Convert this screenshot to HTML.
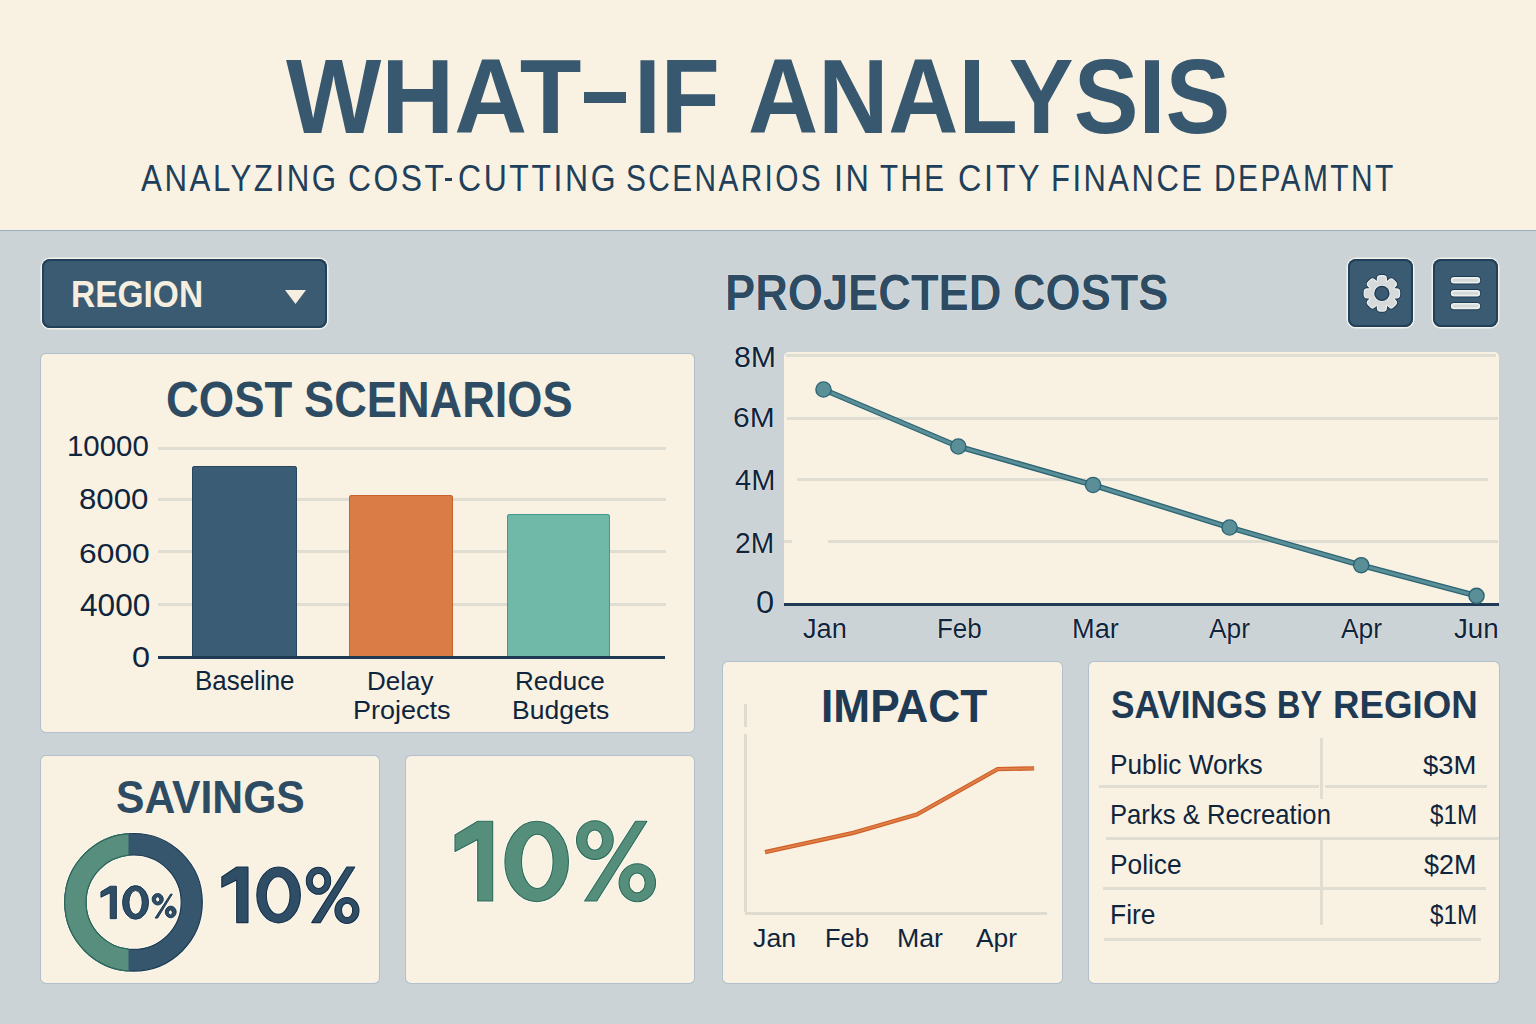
<!DOCTYPE html>
<html><head><meta charset="utf-8">
<style>
html,body{margin:0;padding:0;}
body{width:1536px;height:1024px;position:relative;overflow:hidden;background:#ccd3d6;font-family:"Liberation Sans",sans-serif;}
.a{position:absolute;white-space:nowrap;line-height:1;transform-origin:0 0;}
.b{font-weight:bold;}
.h{text-shadow:0 0 1px #f6f5ee,0 0 1px #f6f5ee;}
.s{position:absolute;}
#hdr{position:absolute;left:0;top:0;width:1536px;height:230px;background:#f9f2e2;border-bottom:1px solid #9aaec4;}
.card{position:absolute;background:#f9f2e2;border-radius:5px;box-shadow:0 0 0 1px rgba(130,155,185,0.35);}
.btn{position:absolute;background:#3a5b72;border-radius:8px;box-shadow:inset 0 0 0 2px #21405a, 0 0 0 1.5px #f3f1ea;}
.grid{position:absolute;height:3px;background:#e0ddd3;}
</style></head>
<body>
<div id="hdr"></div>
<div class="s" style="left:445px;top:177.5px;width:7px;height:3px;background:#1f3f5a;"></div>
<div class="s" style="left:584px;top:91.6px;width:41.7px;height:11.6px;background:#37586f;"></div>

<!-- region dropdown -->
<div class="btn" style="left:42px;top:259px;width:285px;height:69px;"></div>
<svg class="s" style="left:285px;top:290px" width="21" height="14"><path d="M0 0H21L10.5 14Z" fill="#f6efe0"/></svg>

<!-- gear btn -->
<div class="btn" style="left:1348px;top:259px;width:65px;height:68px;"></div>
<svg class="s" style="left:1348px;top:259px" width="65" height="68" viewBox="0 0 65 68">
  <defs><g id="gshape"><circle r="12.6"/><rect x="-4" y="-17.2" width="8" height="8.6" rx="2.6" transform="rotate(0)"/><rect x="-4" y="-17.2" width="8" height="8.6" rx="2.6" transform="rotate(45)"/><rect x="-4" y="-17.2" width="8" height="8.6" rx="2.6" transform="rotate(90)"/><rect x="-4" y="-17.2" width="8" height="8.6" rx="2.6" transform="rotate(135)"/><rect x="-4" y="-17.2" width="8" height="8.6" rx="2.6" transform="rotate(180)"/><rect x="-4" y="-17.2" width="8" height="8.6" rx="2.6" transform="rotate(225)"/><rect x="-4" y="-17.2" width="8" height="8.6" rx="2.6" transform="rotate(270)"/><rect x="-4" y="-17.2" width="8" height="8.6" rx="2.6" transform="rotate(315)"/></g></defs>
  <g transform="translate(33.9,34.4)">
    <use href="#gshape" fill="#1d3a55" stroke="#1d3a55" stroke-width="4.2" stroke-linejoin="round"/>
    <use href="#gshape" fill="#eef0ec" stroke="#eef0ec" stroke-width="2.2" stroke-linejoin="round"/>
    <use href="#gshape" fill="#d6dadb"/>
    <circle r="8.4" fill="#eef0ec"/>
    <circle r="7" fill="#3a5b72" stroke="#1d3a55" stroke-width="1.4"/>
  </g>
</svg>
<!-- menu btn -->
<div class="btn" style="left:1433px;top:259px;width:65px;height:68px;"></div>
<svg class="s" style="left:1433px;top:259px" width="65" height="68" viewBox="0 0 65 68">
  <g stroke-linecap="round">
    <g stroke="#1d3a55" stroke-width="8.4">
      <line x1="21" y1="21.2" x2="44" y2="21.2"/><line x1="21" y1="34.2" x2="44" y2="34.2"/><line x1="21" y1="47.1" x2="44" y2="47.1"/>
    </g>
    <g stroke="#eef0ec" stroke-width="6.4">
      <line x1="21" y1="21.2" x2="44" y2="21.2"/><line x1="21" y1="34.2" x2="44" y2="34.2"/><line x1="21" y1="47.1" x2="44" y2="47.1"/>
    </g>
    <g stroke="#d3d8d9" stroke-width="3">
      <line x1="21" y1="21.2" x2="44" y2="21.2"/><line x1="21" y1="34.2" x2="44" y2="34.2"/><line x1="21" y1="47.1" x2="44" y2="47.1"/>
    </g>
  </g>
</svg>

<!-- cost scenarios card -->
<div class="card" style="left:41px;top:354px;width:653px;height:378px;"></div>
<div class="grid" style="left:158px;top:447px;width:508px;"></div>
<div class="grid" style="left:158px;top:498px;width:508px;"></div>
<div class="grid" style="left:158px;top:550px;width:508px;"></div>
<div class="grid" style="left:158px;top:603px;width:508px;"></div>
<div class="s" style="left:192px;top:466px;width:105px;height:191px;background:#3a5c75;border-radius:3px 3px 0 0;box-shadow:inset 0 0 0 1px #274660;"></div>
<div class="s" style="left:349px;top:495px;width:104px;height:162px;background:#d97c46;border-radius:3px 3px 0 0;box-shadow:inset 0 0 0 1px #c8622c;"></div>
<div class="s" style="left:507px;top:514px;width:103px;height:143px;background:#70b9a8;border-radius:3px 3px 0 0;box-shadow:inset 0 0 0 1px #3f9c8a;"></div>
<div class="s" style="left:158px;top:656px;width:507px;height:3px;background:#1e3a55;"></div>

<!-- projected chart -->
<div class="s" style="left:784px;top:352px;width:715px;height:252px;background:#f9f2e2;border-radius:5px 5px 0 0;"></div>
<div class="grid" style="left:786px;top:354px;width:710px;"></div>
<div class="grid" style="left:787px;top:417px;width:711px;"></div>
<div class="grid" style="left:797px;top:478px;width:691px;"></div>
<div class="grid" style="left:784px;top:540px;width:8px;"></div>
<div class="grid" style="left:828px;top:540px;width:670px;"></div>
<div class="s" style="left:784px;top:603px;width:715px;height:3px;background:#1e3a55;"></div>
<svg class="s" style="left:0;top:0" width="1536" height="1024">
  <polyline points="823.5,389.5 958.3,446.5 1093.1,485 1229.6,527.5 1361.2,565.2 1476.5,595.8" fill="none" stroke="#2b6474" stroke-width="5.6" stroke-linejoin="round"/>
  <polyline points="823.5,389.5 958.3,446.5 1093.1,485 1229.6,527.5 1361.2,565.2 1476.5,595.8" fill="none" stroke="#5b8f98" stroke-width="3" stroke-linejoin="round"/>
  <g fill="#5b8f98" stroke="#2b6474" stroke-width="1.4">
    <circle cx="823.5" cy="389.5" r="7.6"/>
    <circle cx="958.3" cy="446.5" r="7.6"/>
    <circle cx="1093.1" cy="485" r="7.6"/>
    <circle cx="1229.6" cy="527.5" r="7.6"/>
    <circle cx="1361.2" cy="565.2" r="7.6"/>
    <circle cx="1476.5" cy="595.8" r="7.6"/>
  </g>
</svg>

<!-- savings card -->
<div class="card" style="left:41px;top:756px;width:338px;height:227px;"></div>
<svg class="s" style="left:0;top:0" width="400" height="1024">
  <defs><clipPath id="gclip"><rect x="0" y="800" width="128.5" height="200"/></clipPath></defs>
  <path d="M64.70 902.30A68.80 68.80 0 1 0 202.30 902.30A68.80 68.80 0 1 0 64.70 902.30ZM86.00 902.20A47.60 47.20 0 1 0 181.20 902.20A47.60 47.20 0 1 0 86.00 902.20Z" fill="none" stroke="#fffdf5" stroke-width="2.6"/>
  <path d="M64.70 902.30A68.80 68.80 0 1 0 202.30 902.30A68.80 68.80 0 1 0 64.70 902.30ZM86.00 902.20A47.60 47.20 0 1 0 181.20 902.20A47.60 47.20 0 1 0 86.00 902.20Z" fill="#36566d" fill-rule="evenodd" stroke="#1c3a52" stroke-width="1.2"/>
  <path d="M64.70 902.30A68.80 68.80 0 1 0 202.30 902.30A68.80 68.80 0 1 0 64.70 902.30ZM86.00 902.20A47.60 47.20 0 1 0 181.20 902.20A47.60 47.20 0 1 0 86.00 902.20Z" fill="#578e7d" fill-rule="evenodd" stroke="#2b6a5a" stroke-width="1.2" clip-path="url(#gclip)"/>
</svg>

<!-- big 10% card -->
<div class="card" style="left:406px;top:756px;width:288px;height:227px;"></div>

<!-- impact card -->
<div class="card" style="left:723px;top:662px;width:339px;height:321px;"></div>
<div class="s" style="left:744px;top:704px;width:3px;height:23px;background:#dedbd1;"></div>
<div class="s" style="left:744px;top:734px;width:3px;height:178px;background:#dedbd1;"></div>
<div class="s" style="left:745px;top:912px;width:302px;height:3px;background:#dedbd1;"></div>
<svg class="s" style="left:0;top:0" width="1536" height="1024">
  <polyline points="765,852.2 853.4,832.8 916.7,814.6 997.6,769.1 1034.1,768.4" fill="none" stroke="#cf5f27" stroke-width="4.3"/>
  <polyline points="765,852.2 853.4,832.8 916.7,814.6 997.6,769.1 1034.1,768.4" fill="none" stroke="#df7e46" stroke-width="2.1"/>
</svg>

<!-- savings by region -->
<div class="card" style="left:1089px;top:662px;width:410px;height:321px;"></div>
<div class="grid" style="left:1099px;top:785px;width:220px;"></div>
<div class="grid" style="left:1325px;top:785px;width:162px;"></div>
<div class="grid" style="left:1106px;top:837px;width:393px;"></div>
<div class="grid" style="left:1103px;top:887px;width:383px;"></div>
<div class="grid" style="left:1104px;top:938px;width:377px;"></div>
<div class="s" style="left:1320px;top:738px;width:2.5px;height:61px;background:#e0ddd3;"></div>
<div class="s" style="left:1320px;top:837px;width:2.5px;height:88px;background:#e0ddd3;"></div>

<svg class="s" style="left:0;top:0" width="700" height="1024"><path d="M100.90 891.80 L110.20 886.20 L116.40 886.20 L116.40 918.70 L110.20 918.70 L110.20 892.90 L100.90 897.30ZM122.50 902.45A13.05 16.85 0 1 0 148.60 902.45A13.05 16.85 0 1 0 122.50 902.45ZM129.00 902.45A6.60 11.85 0 1 0 142.20 902.45A6.60 11.85 0 1 0 129.00 902.45ZM152.10 899.25A5.60 5.75 0 1 0 163.30 899.25A5.60 5.75 0 1 0 152.10 899.25ZM155.60 899.40A2.05 2.60 0 1 0 159.70 899.40A2.05 2.60 0 1 0 155.60 899.40ZM165.30 911.95A5.45 5.85 0 1 0 176.20 911.95A5.45 5.85 0 1 0 165.30 911.95ZM168.50 912.40A1.90 2.50 0 1 0 172.30 912.40A1.90 2.50 0 1 0 168.50 912.40ZM170.60 894.10 L172.30 894.10 L157.70 918.10 L155.05 918.10Z" fill="none" stroke="#fffdf5" stroke-width="2.0" stroke-linejoin="round"/><path d="M100.90 891.80 L110.20 886.20 L116.40 886.20 L116.40 918.70 L110.20 918.70 L110.20 892.90 L100.90 897.30ZM122.50 902.45A13.05 16.85 0 1 0 148.60 902.45A13.05 16.85 0 1 0 122.50 902.45ZM129.00 902.45A6.60 11.85 0 1 0 142.20 902.45A6.60 11.85 0 1 0 129.00 902.45ZM152.10 899.25A5.60 5.75 0 1 0 163.30 899.25A5.60 5.75 0 1 0 152.10 899.25ZM155.60 899.40A2.05 2.60 0 1 0 159.70 899.40A2.05 2.60 0 1 0 155.60 899.40ZM165.30 911.95A5.45 5.85 0 1 0 176.20 911.95A5.45 5.85 0 1 0 165.30 911.95ZM168.50 912.40A1.90 2.50 0 1 0 172.30 912.40A1.90 2.50 0 1 0 168.50 912.40ZM170.60 894.10 L172.30 894.10 L157.70 918.10 L155.05 918.10Z" fill="#2f4e66" fill-rule="evenodd" stroke="#142f48" stroke-width="0.9" stroke-linejoin="round"/><path d="M221.80 877.00 L236.70 867.00 L248.00 867.00 L248.00 922.60 L236.70 922.60 L236.70 880.00 L221.80 887.30ZM256.80 894.95A21.80 27.95 0 1 0 300.40 894.95A21.80 27.95 0 1 0 256.80 894.95ZM266.35 895.50A11.85 18.70 0 1 0 290.05 895.50A11.85 18.70 0 1 0 266.35 895.50ZM306.30 880.80A12.20 13.50 0 1 0 330.70 880.80A12.20 13.50 0 1 0 306.30 880.80ZM312.20 881.00A6.35 7.45 0 1 0 324.90 881.00A6.35 7.45 0 1 0 312.20 881.00ZM334.90 910.50A12.05 13.05 0 1 0 359.00 910.50A12.05 13.05 0 1 0 334.90 910.50ZM341.50 910.35A5.60 7.25 0 1 0 352.70 910.35A5.60 7.25 0 1 0 341.50 910.35ZM346.80 867.00 L354.80 867.00 L320.30 922.60 L311.70 922.60Z" fill="none" stroke="#fffdf5" stroke-width="2.4" stroke-linejoin="round"/><path d="M221.80 877.00 L236.70 867.00 L248.00 867.00 L248.00 922.60 L236.70 922.60 L236.70 880.00 L221.80 887.30ZM256.80 894.95A21.80 27.95 0 1 0 300.40 894.95A21.80 27.95 0 1 0 256.80 894.95ZM266.35 895.50A11.85 18.70 0 1 0 290.05 895.50A11.85 18.70 0 1 0 266.35 895.50ZM306.30 880.80A12.20 13.50 0 1 0 330.70 880.80A12.20 13.50 0 1 0 306.30 880.80ZM312.20 881.00A6.35 7.45 0 1 0 324.90 881.00A6.35 7.45 0 1 0 312.20 881.00ZM334.90 910.50A12.05 13.05 0 1 0 359.00 910.50A12.05 13.05 0 1 0 334.90 910.50ZM341.50 910.35A5.60 7.25 0 1 0 352.70 910.35A5.60 7.25 0 1 0 341.50 910.35ZM346.80 867.00 L354.80 867.00 L320.30 922.60 L311.70 922.60Z" fill="#2f4e66" fill-rule="evenodd" stroke="#142f48" stroke-width="1.1" stroke-linejoin="round"/><path d="M455.00 835.00 L477.70 821.20 L492.70 821.20 L492.70 901.00 L477.70 901.00 L477.70 839.40 L455.00 851.50ZM504.90 861.50A31.80 40.20 0 1 0 568.50 861.50A31.80 40.20 0 1 0 504.90 861.50ZM521.50 861.40A15.80 27.10 0 1 0 553.10 861.40A15.80 27.10 0 1 0 521.50 861.40ZM576.50 840.10A18.40 19.30 0 1 0 613.30 840.10A18.40 19.30 0 1 0 576.50 840.10ZM586.85 840.20A7.85 10.20 0 1 0 602.55 840.20A7.85 10.20 0 1 0 586.85 840.20ZM619.05 882.70A18.25 19.00 0 1 0 655.55 882.70A18.25 19.00 0 1 0 619.05 882.70ZM629.00 882.90A8.10 9.90 0 1 0 645.20 882.90A8.10 9.90 0 1 0 629.00 882.90ZM635.50 821.20 L647.00 821.20 L596.80 901.00 L584.60 901.00Z" fill="none" stroke="#fffdf5" stroke-width="2.6" stroke-linejoin="round"/><path d="M455.00 835.00 L477.70 821.20 L492.70 821.20 L492.70 901.00 L477.70 901.00 L477.70 839.40 L455.00 851.50ZM504.90 861.50A31.80 40.20 0 1 0 568.50 861.50A31.80 40.20 0 1 0 504.90 861.50ZM521.50 861.40A15.80 27.10 0 1 0 553.10 861.40A15.80 27.10 0 1 0 521.50 861.40ZM576.50 840.10A18.40 19.30 0 1 0 613.30 840.10A18.40 19.30 0 1 0 576.50 840.10ZM586.85 840.20A7.85 10.20 0 1 0 602.55 840.20A7.85 10.20 0 1 0 586.85 840.20ZM619.05 882.70A18.25 19.00 0 1 0 655.55 882.70A18.25 19.00 0 1 0 619.05 882.70ZM629.00 882.90A8.10 9.90 0 1 0 645.20 882.90A8.10 9.90 0 1 0 629.00 882.90ZM635.50 821.20 L647.00 821.20 L596.80 901.00 L584.60 901.00Z" fill="#568e7c" fill-rule="evenodd" stroke="#2d6a58" stroke-width="1.1" stroke-linejoin="round"/></svg>
<div class="a b" id="title_w" style="left:285.52px;top:44.47px;font-size:105.52px;color:#37586f;transform:scaleX(0.9573);">WHAT</div>
<div class="a b" id="title_if" style="left:633.57px;top:44.47px;font-size:105.52px;color:#37586f;transform:scaleX(0.9153);">IF</div>
<div class="a b" id="title_an" style="left:748.45px;top:44.47px;font-size:105.52px;color:#37586f;transform:scaleX(0.9206);">ANALYSIS</div>
<div class="a" id="sub0" style="left:140.62px;top:160.38px;font-size:37.35px;color:#1f3f5a;letter-spacing:3px;transform:scaleX(0.8382);">ANALYZING</div>
<div class="a" id="sub1" style="left:347.95px;top:160.38px;font-size:37.35px;color:#1f3f5a;letter-spacing:3px;transform:scaleX(0.8518);">COST</div>
<div class="a" id="sub2" style="left:457.96px;top:160.38px;font-size:37.35px;color:#1f3f5a;letter-spacing:3px;transform:scaleX(0.8569);">CUTTING</div>
<div class="a" id="sub3" style="left:626.04px;top:160.38px;font-size:37.35px;color:#1f3f5a;letter-spacing:3px;transform:scaleX(0.7985);">SCENARIOS</div>
<div class="a" id="sub4" style="left:834.20px;top:160.38px;font-size:37.35px;color:#1f3f5a;letter-spacing:3px;transform:scaleX(0.8686);">IN</div>
<div class="a" id="sub5" style="left:880.35px;top:160.38px;font-size:37.35px;color:#1f3f5a;letter-spacing:3px;transform:scaleX(0.7933);">THE</div>
<div class="a" id="sub6" style="left:957.70px;top:160.38px;font-size:37.35px;color:#1f3f5a;letter-spacing:3px;transform:scaleX(0.8688);">CITY</div>
<div class="a" id="sub7" style="left:1050.72px;top:160.38px;font-size:37.35px;color:#1f3f5a;letter-spacing:3px;transform:scaleX(0.8299);">FINANCE</div>
<div class="a" id="sub8" style="left:1214.26px;top:160.38px;font-size:37.35px;color:#1f3f5a;letter-spacing:3px;transform:scaleX(0.8023);">DEPAMTNT</div>
<div class="a b" id="region" style="left:71.48px;top:276.36px;font-size:37.50px;color:#f6efe0;transform:scaleX(0.8930);">REGION</div>
<div class="a b h" id="ptitle0" style="left:724.59px;top:267.68px;font-size:50.00px;color:#2d4c64;transform:scaleX(0.9041);">PROJECTED</div>
<div class="a b h" id="ptitle1" style="left:1013.08px;top:267.68px;font-size:50.00px;color:#2d4c64;transform:scaleX(0.9017);">COSTS</div>
<div class="a b" id="ctitle0" style="left:166.43px;top:375.19px;font-size:49.27px;color:#2d4c64;transform:scaleX(0.9224);">COST</div>
<div class="a b" id="ctitle1" style="left:304.39px;top:375.19px;font-size:49.27px;color:#2d4c64;transform:scaleX(0.9170);">SCENARIOS</div>
<div class="a" id="y10000" style="left:67.03px;top:431.28px;font-size:29.80px;color:#0f253d;transform:scaleX(0.9875);">10000</div>
<div class="a" id="y8000" style="left:79.32px;top:485.39px;font-size:29.07px;color:#0f253d;transform:scaleX(1.0731);">8000</div>
<div class="a" id="y6000" style="left:79.05px;top:538.53px;font-size:28.20px;color:#0f253d;transform:scaleX(1.1283);">6000</div>
<div class="a" id="y4000" style="left:79.98px;top:589.76px;font-size:30.52px;color:#0f253d;transform:scaleX(1.0351);">4000</div>
<div class="a" id="y0" style="left:131.85px;top:642.18px;font-size:29.80px;color:#0f253d;transform:scaleX(1.0859);">0</div>
<div class="a" id="xbase" style="left:195.08px;top:667.51px;font-size:27.03px;color:#0f253d;transform:scaleX(0.9600);">Baseline</div>
<div class="a" id="xdelay" style="left:367.22px;top:668.13px;font-size:26.31px;color:#0f253d;transform:scaleX(0.9882);">Delay</div>
<div class="a" id="xproj" style="left:352.64px;top:697.51px;font-size:25.15px;color:#0f253d;transform:scaleX(1.0739);">Projects</div>
<div class="a" id="xred" style="left:514.82px;top:668.13px;font-size:26.31px;color:#0f253d;transform:scaleX(0.9911);">Reduce</div>
<div class="a" id="xbud" style="left:512.27px;top:697.51px;font-size:25.15px;color:#0f253d;transform:scaleX(1.0551);">Budgets</div>
<div class="a h" id="m8" style="left:733.98px;top:343.39px;font-size:29.07px;color:#0f253d;transform:scaleX(1.0428);">8M</div>
<div class="a h" id="m6" style="left:732.51px;top:403.01px;font-size:28.34px;color:#0f253d;transform:scaleX(1.0585);">6M</div>
<div class="a h" id="m4" style="left:734.79px;top:465.79px;font-size:29.07px;color:#0f253d;transform:scaleX(0.9985);">4M</div>
<div class="a h" id="m2" style="left:735.28px;top:527.90px;font-size:29.65px;color:#0f253d;transform:scaleX(0.9497);">2M</div>
<div class="a h" id="m0" style="left:755.51px;top:587.20px;font-size:30.60px;color:#0f253d;transform:scaleX(1.0667);">0</div>
<div class="a h" id="jan" style="left:803.20px;top:614.21px;font-size:28.34px;color:#0f253d;transform:scaleX(0.9614);">Jan</div>
<div class="a h" id="feb" style="left:936.79px;top:614.21px;font-size:28.34px;color:#0f253d;transform:scaleX(0.9159);">Feb</div>
<div class="a h" id="mar" style="left:1071.52px;top:614.21px;font-size:28.34px;color:#0f253d;transform:scaleX(0.9590);">Mar</div>
<div class="a h" id="apr1" style="left:1209.41px;top:614.75px;font-size:28.05px;color:#0f253d;transform:scaleX(0.9401);">Apr</div>
<div class="a h" id="apr2" style="left:1341.00px;top:614.75px;font-size:28.05px;color:#0f253d;transform:scaleX(0.9401);">Apr</div>
<div class="a h" id="jun" style="left:1453.62px;top:614.75px;font-size:28.05px;color:#0f253d;transform:scaleX(0.9890);">Jun</div>
<div class="a b" id="savings" style="left:116.47px;top:775.41px;font-size:45.35px;color:#2d4c64;transform:scaleX(0.9404);">SAVINGS</div>
<div class="a b" id="impact" style="left:821.13px;top:683.00px;font-size:46.08px;color:#1f3a55;transform:scaleX(0.9599);">IMPACT</div>
<div class="a" id="ijan" style="left:753.40px;top:924.85px;font-size:26.16px;color:#0f253d;transform:scaleX(1.0230);">Jan</div>
<div class="a" id="ifeb" style="left:825.45px;top:924.85px;font-size:26.16px;color:#0f253d;transform:scaleX(0.9741);">Feb</div>
<div class="a" id="imar" style="left:897.35px;top:924.85px;font-size:26.16px;color:#0f253d;transform:scaleX(1.0214);">Mar</div>
<div class="a" id="iapr" style="left:975.80px;top:924.85px;font-size:26.16px;color:#0f253d;transform:scaleX(1.0075);">Apr</div>
<div class="a b" id="sbr0" style="left:1110.81px;top:686.49px;font-size:38.52px;color:#1f3a55;transform:scaleX(0.9148);">SAVINGS</div>
<div class="a b" id="sbr1" style="left:1276.91px;top:686.49px;font-size:38.52px;color:#1f3a55;transform:scaleX(0.8424);">BY</div>
<div class="a b" id="sbr2" style="left:1333.23px;top:686.49px;font-size:38.52px;color:#1f3a55;transform:scaleX(0.9521);">REGION</div>
<div class="a" id="r1" style="left:1109.90px;top:750.82px;font-size:27.62px;color:#0f253d;transform:scaleX(0.9496);">Public Works</div>
<div class="a" id="r2" style="left:1110.10px;top:802.11px;font-size:27.03px;color:#0f253d;transform:scaleX(0.9491);">Parks &amp; Recreation</div>
<div class="a" id="r3" style="left:1110.09px;top:850.80px;font-size:27.76px;color:#0f253d;transform:scaleX(0.9481);">Police</div>
<div class="a" id="r4" style="left:1110.10px;top:900.62px;font-size:27.62px;color:#0f253d;transform:scaleX(0.9572);">Fire</div>
<div class="a" id="v1" style="left:1423.37px;top:752.05px;font-size:26.16px;color:#0f253d;transform:scaleX(1.0498);">$3M</div>
<div class="a" id="v2" style="left:1429.83px;top:802.11px;font-size:27.03px;color:#0f253d;transform:scaleX(0.8965);">$1M</div>
<div class="a" id="v3" style="left:1424.41px;top:850.80px;font-size:27.76px;color:#0f253d;transform:scaleX(0.9695);">$2M</div>
<div class="a" id="v4" style="left:1429.83px;top:900.62px;font-size:27.62px;color:#0f253d;transform:scaleX(0.8788);">$1M</div>
</body></html>
